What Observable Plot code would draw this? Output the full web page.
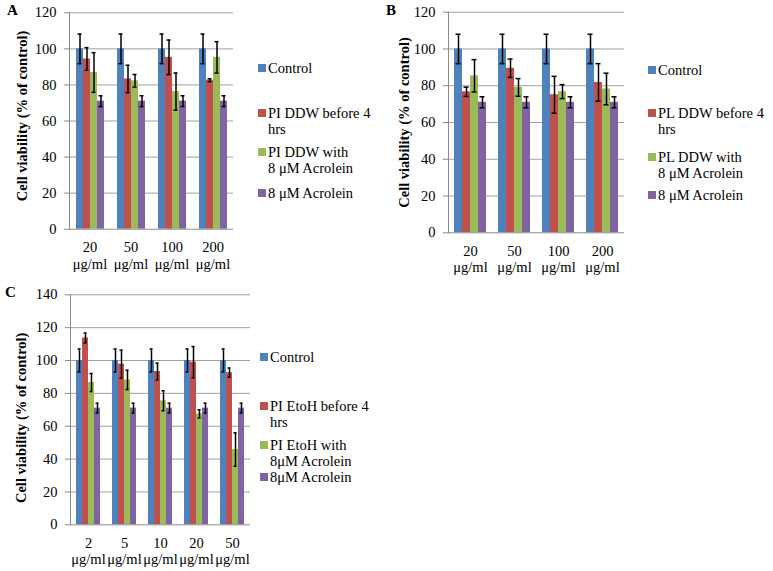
<!DOCTYPE html>
<html><head><meta charset="utf-8">
<script src="https://cdn.jsdelivr.net/npm/d3@7"></script>
<script src="https://cdn.jsdelivr.net/npm/@observablehq/plot@0.6"></script>
<style>
body{margin:0;background:#fff;}
#fig{position:relative;width:773px;height:571px;font-family:"Liberation Serif","DejaVu Serif","Times New Roman",serif;color:#000;overflow:hidden;}
.panel{position:absolute;}
.letter{position:absolute;font-weight:bold;font-size:15px;line-height:15px;}
.legend{position:absolute;font-size:14.5px;line-height:16px;}
.entry{position:absolute;left:0;white-space:nowrap;}
.sw{position:absolute;left:0;top:4px;width:8px;height:8px;}
.lt{position:absolute;left:10px;top:0;}
</style></head>
<body><div id="fig"></div>
<script>
// Series (legend order) and colours
const series = ["Control", "Before", "With", "Acrolein"];
const colors = ["#4F81BD", "#C0504D", "#9BBB59", "#8064A2"];
const yTitle = "Cell viability (% of control)";
const unit = "μg/ml";

// Panel A
const dosesA = ["20", "50", "100", "200"];
const controlA = [100, 100, 100, 100];
const controlErrA = [8.2, 8.2, 8.2, 8.2];
const beforeA = [94.4, 83.3, 95.3, 82.6];
const beforeErrA = [6.3, 7.6, 9.6, 0.8];
const withA = [86.9, 82.3, 76.3, 95.3];
const withErrA = [11, 3.5, 10.3, 8.7];
const acroA = [71, 71, 71, 71];
const acroErrA = [3, 3, 3, 3];
const legendA = ["Control", "PI DDW before 4\nhrs", "PI DDW with\n8 μM Acrolein", "8 μM Acrolein"];

// Panel B
const dosesB = ["20", "50", "100", "200"];
const controlB = [100, 100, 100, 100];
const controlErrB = [8, 8, 8, 8];
const beforeB = [76.7, 89.5, 75.1, 81.8];
const beforeErrB = [2.5, 5, 10, 10.2];
const withB = [85.4, 79.1, 76.8, 78.2];
const withErrB = [8.8, 4.8, 3.8, 8.6];
const acroB = [71, 71, 71, 71];
const acroErrB = [3, 3, 3, 3];
const legendB = ["Control", "PL DDW before 4\nhrs", "PL DDW with\n8 μM Acrolein", "8 μM Acrolein"];

// Panel C
const dosesC = ["2", "5", "10", "20", "50"];
const controlC = [100, 100, 100, 100, 100];
const controlErrC = [7, 7, 7, 7, 7];
const beforeC = [113.7, 97.8, 93.3, 99, 92.6];
const beforeErrC = [3, 8.5, 5.1, 9.5, 2.8];
const withC = [86.6, 88.2, 75.5, 67.5, 45.8];
const withErrC = [5.5, 5.9, 6.1, 2.5, 10.2];
const acroC = [71, 71, 71, 71, 71];
const acroErrC = [3, 3, 3, 3, 3];
const legendC = ["Control", "PI EtoH before 4\nhrs", "PI EtoH with\n8μM Acrolein", "8μM Acrolein"];

function tidy(doses, vals, errs) {
  const out = [];
  doses.forEach((d, i) => series.forEach((s, j) => out.push({dose: d, series: s, value: vals[j][i], err: errs[j][i]})));
  return out;
}

function panel(o) {
  const data = tidy(o.doses, o.vals, o.errs);
  const ticks = d3.range(0, o.yMax + 1, 20);
  return Plot.plot({
    width: o.width, height: o.height,
    marginLeft: o.ml, marginRight: o.mr, marginTop: o.mt, marginBottom: o.mb,
    style: {fontFamily: "'Liberation Serif', 'DejaVu Serif', 'Times New Roman', serif", fontSize: "14.5px", color: "#000", background: "white", overflow: "visible"},
    fx: {domain: o.doses, padding: 0, label: null},
    x: {domain: series, paddingInner: 0, paddingOuter: 0.7, axis: null},
    y: {domain: [0, o.yMax], label: null},
    color: {domain: series, range: colors},
    marks: [
      Plot.gridY(ticks.slice(1), {stroke: "#a0a0a0", strokeOpacity: 1, strokeWidth: 1}),
      Plot.barY(data, {fx: "dose", x: "series", y: "value", fill: "series"}),
      Plot.ruleY([0], {stroke: "#8a8a8a", strokeWidth: 1}),
      Plot.frame({anchor: "left", stroke: "#8a8a8a", facetAnchor: "left"}),
      Plot.ruleX(data, {fx: "dose", x: "series", y1: d => d.value - d.err, y2: d => d.value + d.err, stroke: "#000", strokeWidth: 1.5}),
      Plot.tickY(data, {fx: "dose", x: "series", y: d => d.value + d.err, stroke: "#000", strokeWidth: 1.5, insetLeft: 1.5, insetRight: 1.5}),
      Plot.tickY(data, {fx: "dose", x: "series", y: d => d.value - d.err, stroke: "#000", strokeWidth: 1.5, insetLeft: 1.5, insetRight: 1.5}),
      Plot.axisY(ticks, {anchor: "left", tickSize: 5, tickPadding: 8, stroke: "#8a8a8a", fontSize: 14.5, label: null}),
      Plot.axisFx({anchor: "bottom", tickSize: 0, tickPadding: 11, fontSize: 14.5, lineHeight: 1.15, label: null, tickFormat: d => d + "\n" + unit}),
      Plot.text([yTitle], {text: d => d, frameAnchor: "left", textAnchor: "middle", lineAnchor: "middle", rotate: -90, dx: o.tdx, dy: o.tdy, fontWeight: "bold", fontSize: 14.5, facetAnchor: "left"})
    ]
  });
}

function legend(labels, lines) {
  const div = document.createElement("div");
  div.className = "legend";
  labels.forEach((lab, i) => {
    const e = document.createElement("div");
    e.className = "entry";
    e.style.top = (lines[i] - 8) + "px";
    const sw = document.createElement("span");
    sw.className = "sw";
    sw.style.background = colors[i];
    const t = document.createElement("span");
    t.className = "lt";
    t.innerHTML = lab.split("\n").join("<br>");
    e.appendChild(sw); e.appendChild(t);
    div.appendChild(e);
  });
  return div;
}

const fig = document.getElementById("fig");
function place(node, left, top) {
  node.style.position = "absolute";
  node.style.left = left + "px";
  node.style.top = top + "px";
  fig.appendChild(node);
}
function letter(txt, left, top) {
  const d = document.createElement("div");
  d.className = "letter";
  d.textContent = txt;
  place(d, left, top);
}

const pA = panel({doses: dosesA, vals: [controlA, beforeA, withA, acroA], errs: [controlErrA, beforeErrA, withErrA, acroErrA],
  yMax: 120, width: 250, height: 280, ml: 68, mr: 15.5, mt: 12.3, mb: 51.3, tdx: -47, tdy: -5});
place(pA, 0, 0);
const pB = panel({doses: dosesB, vals: [controlB, beforeB, withB, acroB], errs: [controlErrB, beforeErrB, withErrB, acroErrB],
  yMax: 120, width: 250, height: 290, ml: 62, mr: 11, mt: 11.7, mb: 57.7, tdx: -44, tdy: 0});
place(pB, 385, 0);
const pC = panel({doses: dosesC, vals: [controlC, beforeC, withC, acroC], errs: [controlErrC, beforeErrC, withErrC, acroErrC],
  yMax: 140, width: 260, height: 286, ml: 68, mr: 9, mt: 9.3, mb: 46.7, tdx: -49, tdy: 8});
place(pC, 0, 285);

place(legend(legendA, [68, 113, 152, 193]), 258, 0);
place(legend(legendB, [70, 113, 157, 195]), 648, 0);
place(legend(legendC, [357, 406, 445, 477]), 260, 0);

letter("A", 7, 3);
letter("B", 386, 3);
letter("C", 5, 285);
</script>
</body></html>
